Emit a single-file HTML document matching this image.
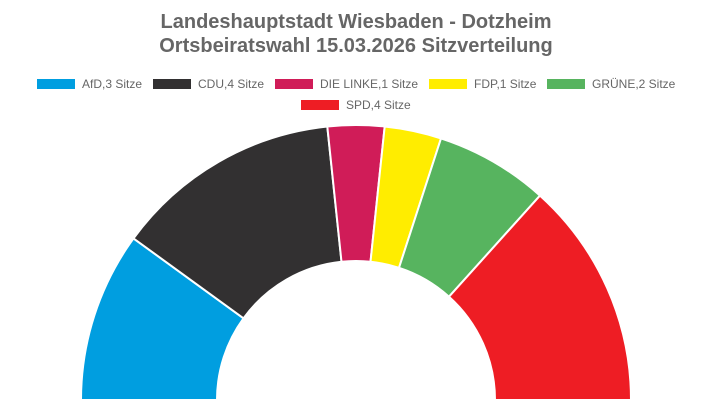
<!DOCTYPE html>
<html><head><meta charset="utf-8"><style>
body{margin:0;background:#fff;width:712px;height:400px;overflow:hidden;font-family:"Liberation Sans",sans-serif}
</style></head><body>
<svg width="712" height="400" viewBox="0 0 712 400">
<rect width="712" height="400" fill="#fff"/>
<g font-family="Liberation Sans, sans-serif" fill="#666" font-weight="bold" font-size="20" text-anchor="middle">
<text x="356" y="28">Landeshauptstadt Wiesbaden - Dotzheim</text>
<text x="356" y="52">Ortsbeiratswahl 15.03.2026 Sitzverteilung</text>
</g>
<g font-family="Liberation Sans, sans-serif" fill="#666" font-size="12">
<rect x="37" y="79" width="38" height="10" fill="#009ee0"/><text x="82" y="88">AfD,3 Sitze</text>
<rect x="153" y="79" width="38" height="10" fill="#323031"/><text x="198" y="88">CDU,4 Sitze</text>
<rect x="275" y="79" width="38" height="10" fill="#d01c58"/><text x="320" y="88">DIE LINKE,1 Sitze</text>
<rect x="429" y="79" width="38" height="10" fill="#ffed00"/><text x="474" y="88">FDP,1 Sitze</text>
<rect x="547" y="79" width="38" height="10" fill="#57b45f"/><text x="592" y="88">GRÜNE,2 Sitze</text>
<rect x="301" y="100" width="38" height="10" fill="#ee1d24"/><text x="346" y="109">SPD,4 Sitze</text>
</g>
<g stroke="#fff" stroke-width="2" stroke-linejoin="round">
<path d="M81,400 A275,275 0 0 1 133.5,238.4 L243.5,318.3 A139,139 0 0 0 217,400 Z" fill="#009ee0"/>
<path d="M133.5,238.4 A275,275 0 0 1 327.3,126.5 L341.5,261.8 A139,139 0 0 0 243.5,318.3 Z" fill="#323031"/>
<path d="M327.3,126.5 A275,275 0 0 1 384.7,126.5 L370.5,261.8 A139,139 0 0 0 341.5,261.8 Z" fill="#d01c58"/>
<path d="M384.7,126.5 A275,275 0 0 1 441,138.4 L399,267.8 A139,139 0 0 0 370.5,261.8 Z" fill="#ffed00"/>
<path d="M441,138.4 A275,275 0 0 1 540,195.6 L449,296.7 A139,139 0 0 0 399,267.8 Z" fill="#57b45f"/>
<path d="M540,195.6 A275,275 0 0 1 631,400 L495,400 A139,139 0 0 0 449,296.7 Z" fill="#ee1d24"/>
</g>
</svg>
</body></html>
